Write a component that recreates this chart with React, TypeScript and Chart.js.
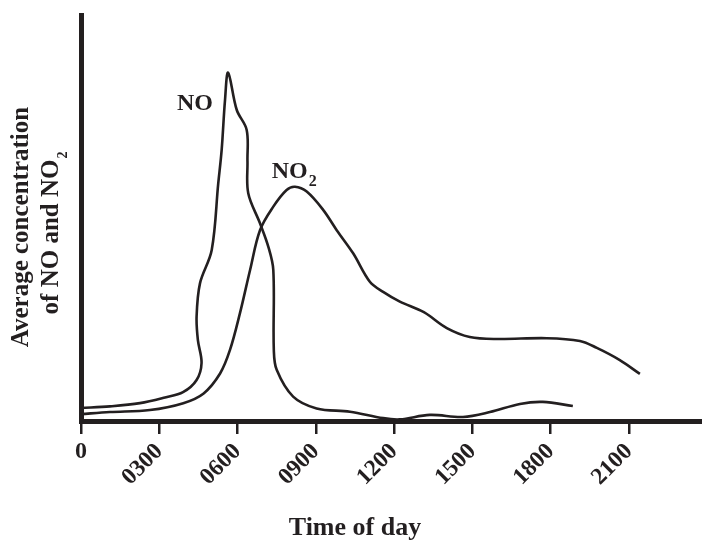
import React, { useEffect, useRef } from 'react';
import { Chart, registerables } from 'chart.js';

Chart.register(...registerables);

// ---- data (hours of day, relative concentration 0-100) ----
const X_TICKS = [0, 3, 6, 9, 12, 15, 18, 21];
const X_MIN = 0;
const X_MAX = 23.8;
const Y_MIN = 0;
const Y_MAX = 100;

const NO_HOURS = [0, 1.11, 2.26, 3.22, 3.91, 4.43, 4.62, 4.48, 4.43, 4.56, 5.01, 5.26, 5.39, 5.52, 5.64, 5.97, 6.35, 6.38, 6.41, 6.86, 7.18, 7.37, 7.39, 7.5, 8.13, 9.03, 10.31, 11.58, 12.22, 13.37, 14.64, 15.67, 16.82, 17.7, 18.85];
const NO_VALUES = [3.2, 3.6, 4.4, 5.8, 7.1, 10.1, 14.3, 19.9, 25.7, 33.9, 42.1, 58.5, 66.7, 79.1, 85.8, 76.6, 71.7, 64.0, 56.1, 48.7, 42.9, 37.2, 17.5, 12.6, 6.0, 3.1, 2.3, 0.7, 0.4, 1.5, 1.0, 2.2, 4.2, 4.7, 3.7];

const NO2_HOURS = [0, 1.11, 2.64, 3.92, 4.7, 5.33, 5.71, 6.09, 6.48, 6.86, 7.37, 7.88, 8.2, 8.65, 9.28, 9.8, 10.43, 11.07, 11.58, 12.22, 13.14, 14.02, 14.9, 15.94, 17.85, 19.12, 19.77, 20.65, 21.42];
const NO2_VALUES = [1.7, 2.2, 2.7, 4.4, 6.8, 11.7, 17.5, 26.5, 37.2, 47.0, 52.8, 56.9, 57.7, 56.5, 52.0, 47.0, 41.3, 34.3, 31.8, 29.4, 26.8, 22.9, 20.7, 20.2, 20.4, 19.7, 18.0, 15.0, 11.6];

const LABEL_MAIN = ['NO', 'NO'];
const LABEL_SUB = ['', '2'];
const LABEL_HOURS = [3.68, 7.31];
const LABEL_VALUES = [76.7, 59.8];

const X_TITLE = 'Time of day';
const Y_TITLE_LINES = ['Average concentration', 'of NO and NO'];
const Y_TITLE_SUB = '2';

const INK = '#231f20';
const FONT = "'Liberation Serif', 'Times New Roman', serif";

const fmtTick = (v: number) => (v === 0 ? '' : String(Math.round(v * 100)).padStart(4, '0'));

const textPlugin = {
  id: 'textPlugin',
  afterDraw(chart: any) {
    const { ctx, chartArea } = chart;
    const xs = chart.scales.x;
    const ys = chart.scales.y;
    ctx.save();
    ctx.fillStyle = INK;

    // upright "0" tick label
    ctx.font = `bold 24px ${FONT}`;
    ctx.textAlign = 'center';
    ctx.textBaseline = 'alphabetic';
    ctx.fillText('0', xs.getPixelForValue(X_TICKS[0]), chartArea.bottom + 37);

    // series labels
    for (let i = 0; i < LABEL_MAIN.length; i++) {
      const px = xs.getPixelForValue(LABEL_HOURS[i]);
      const py = ys.getPixelForValue(LABEL_VALUES[i]);
      ctx.textAlign = 'left';
      ctx.font = `bold 24px ${FONT}`;
      ctx.fillText(LABEL_MAIN[i], px, py);
      if (LABEL_SUB[i]) {
        const w = ctx.measureText(LABEL_MAIN[i]).width;
        ctx.font = `bold 16px ${FONT}`;
        ctx.fillText(LABEL_SUB[i], px + w + 1, py + 8);
      }
    }

    // x title
    ctx.font = `bold 26px ${FONT}`;
    ctx.textAlign = 'center';
    const xc = xs.getPixelForValue((X_TICKS[0] + X_TICKS[X_TICKS.length - 1]) / 2);
    ctx.fillText(X_TITLE, xc, chartArea.bottom + 114);

    // y title (two lines, rotated)
    const mid = (chartArea.top + chartArea.bottom) / 2;
    const centers = [mid + 9, mid + 15];
    const baselines = [28, 58];
    for (let i = 0; i < Y_TITLE_LINES.length; i++) {
      const last = i === Y_TITLE_LINES.length - 1;
      ctx.save();
      ctx.translate(baselines[i], centers[i]);
      ctx.rotate(-Math.PI / 2);
      ctx.font = `bold 25px ${FONT}`;
      const w = ctx.measureText(Y_TITLE_LINES[i]).width;
      let total = w;
      if (last) {
        ctx.font = `bold 14px ${FONT}`;
        total = w + 1 + ctx.measureText(Y_TITLE_SUB).width;
      }
      ctx.textAlign = 'left';
      ctx.font = `bold 25px ${FONT}`;
      ctx.fillText(Y_TITLE_LINES[i], -total / 2, 0);
      if (last) {
        ctx.font = `bold 14px ${FONT}`;
        ctx.fillText(Y_TITLE_SUB, -total / 2 + w + 1, 9);
      }
      ctx.restore();
    }
    ctx.restore();
  },
};

export default function App() {
  const ref = useRef<HTMLCanvasElement | null>(null);
  useEffect(() => {
    if (!ref.current) return;
    const chart = new Chart(ref.current, {
      type: 'line',
      data: {
        datasets: [
          {
            label: 'NO',
            data: NO_HOURS.map((h, i) => ({ x: h, y: NO_VALUES[i] })),
            borderColor: INK,
            borderWidth: 2.6,
            pointRadius: 0,
            tension: 0.35,
            fill: false,
          },
          {
            label: 'NO2',
            data: NO2_HOURS.map((h, i) => ({ x: h, y: NO2_VALUES[i] })),
            borderColor: INK,
            borderWidth: 2.6,
            pointRadius: 0,
            tension: 0.35,
            fill: false,
          },
        ],
      },
      options: {
        responsive: false,
        animation: false,
        layout: { padding: { top: 15, right: 0, left: 0, bottom: 0 } },
        plugins: {
          legend: { display: false },
          tooltip: { enabled: false },
        },
        scales: {
          x: {
            type: 'linear',
            min: X_MIN,
            max: X_MAX,
            afterBuildTicks: (s: any) => {
              s.ticks = X_TICKS.map((v) => ({ value: v }));
            },
            afterFit: (s: any) => {
              s.height = 120;
            },
            grid: {
              display: true,
              drawOnChartArea: false,
              drawTicks: true,
              tickLength: 13,
              tickWidth: 2.5,
              tickColor: INK,
              color: INK,
              lineWidth: 2.5,
            },
            border: { display: true, width: 5, color: INK },
            ticks: {
              autoSkip: false,
              minRotation: 45,
              maxRotation: 45,
              padding: 4,
              color: INK,
              font: { family: FONT, size: 23.5, weight: 'bold' },
              callback: (v: any) => fmtTick(Number(v)),
            },
          },
          y: {
            type: 'linear',
            min: Y_MIN,
            max: Y_MAX,
            afterFit: (s: any) => {
              s.width = 81;
            },
            grid: { display: false },
            border: { display: true, width: 5, color: INK },
            ticks: { display: false },
          },
        },
      } as any,
      plugins: [textPlugin],
    });
    return () => chart.destroy();
  }, []);
  return (
    <div style={{ position: 'absolute', left: 0, top: 0, width: 702, height: 541, background: '#fff' }}>
      <canvas ref={ref} width={702} height={541} style={{ display: 'block' }} />
    </div>
  );
}
